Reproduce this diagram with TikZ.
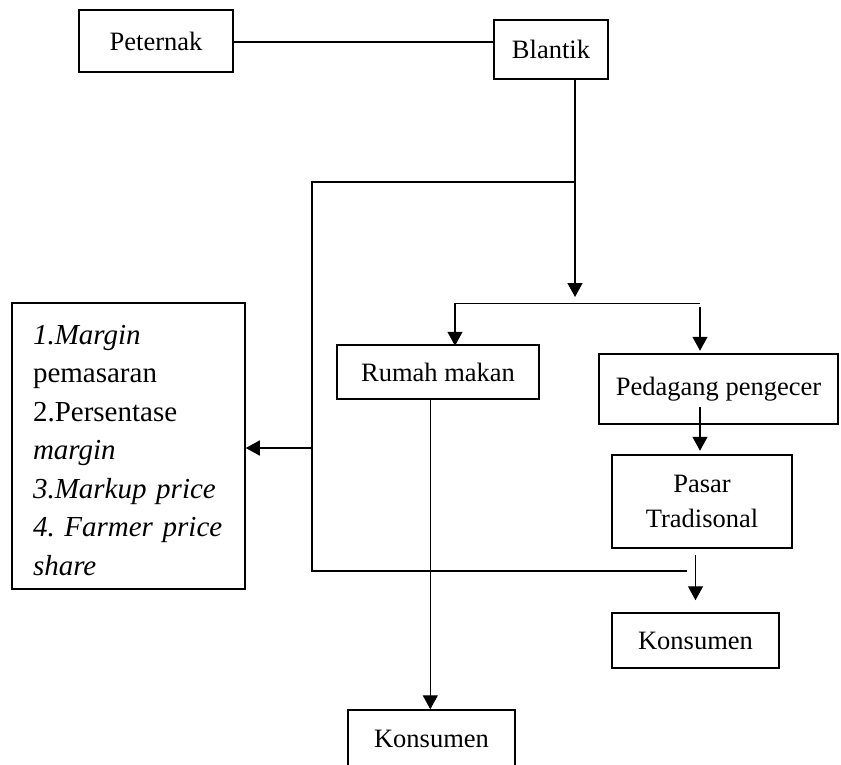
\documentclass[tikz,border=0pt]{standalone}
\usepackage{fontspec}
\setmainfont{Liberation Serif}
\usetikzlibrary{arrows.meta}
\frenchspacing
\begin{document}
\begin{tikzpicture}[x=1pt,y=-1pt,
  box/.style={draw, line width=1.5pt, inner sep=0pt, align=center,
    font=\fontsize{26.5}{35.7}\selectfont},
  conn/.style={line width=1.4pt},
  arr/.style={conn, -{Triangle[length=14pt,width=15pt]}}]
\useasboundingbox (0,0) rectangle (841,764);
% boxes
\node[box, minimum width=154pt, minimum height=62pt] (pet) at (156,41) {Peternak};
\node[box, minimum width=114pt, minimum height=59pt] (bla) at (551,49.5) {Blantik};
\node[box, minimum width=202pt, minimum height=54pt] (rum) at (438,372) {Rumah makan};
\node[box, minimum width=239pt, minimum height=70pt] (ped) at (718.5,389) {Pedagang pengecer};
\node[box, minimum width=180pt, minimum height=93pt] (pas) at (702,501.5) {Pasar\\Tradisonal};
\node[box, minimum width=167pt, minimum height=55pt] (kon1) at (695.5,640.5) {Konsumen};
\node[box, minimum width=167pt, minimum height=58pt] (kon2) at (431.5,739) {Konsumen};
\node[box, minimum width=233pt, minimum height=286pt, text width=191pt, align=left,
  font=\fontsize{29}{38.5}\selectfont] (lbox) at (128.5,446)
  {\rule{0pt}{28pt}\mbox{\textit{1.Margin}}\\\mbox{pemasaran}\\\mbox{2.Persentase}\\\mbox{\textit{margin}}\\\mbox{\textit{3.Markup price}}\\\mbox{\textit{4. Farmer price}}\\\mbox{\textit{share}}};
% junction coordinates
\coordinate (j1) at (575,182);
\coordinate (j2) at (575,297);
\coordinate (j3) at (312,182);
\coordinate (j4) at (312,571);
\coordinate (j5) at (687,571);
\coordinate (j6) at (312,448);
\coordinate (b1) at (455,303.3);
\coordinate (b2) at (699.5,303.3);
\coordinate (b3) at (700,307);
% connectors
\draw[conn] (pet.east |- 0,42) -- (bla.west |- 0,42);
\draw[arr] (bla.south -| j1) -- (j2);
\draw[conn] (j1) -- (j3) -- (j4) -- (j5);
\draw[arr] (j6) -- (j6 -| lbox.east);
\draw[conn] (b2) -- (b1);
\draw[arr] (b1) -- ([yshift=-1.5pt]b1 |- rum.north);
\draw[arr] (b3) -- ([yshift=2.5pt]b3 |- ped.north);
\draw[arr] ([yshift=18pt]b3 |- ped.south) -- ([yshift=3.5pt]b3 |- pas.north);
\draw[arr] ([yshift=-6.5pt]kon1.north |- pas.south) -- ([yshift=12pt]kon1.north);
\draw[arr] (rum.south -| 430.3,0) -- (kon2.north -| 430.3,0);
\end{tikzpicture}
\end{document}
